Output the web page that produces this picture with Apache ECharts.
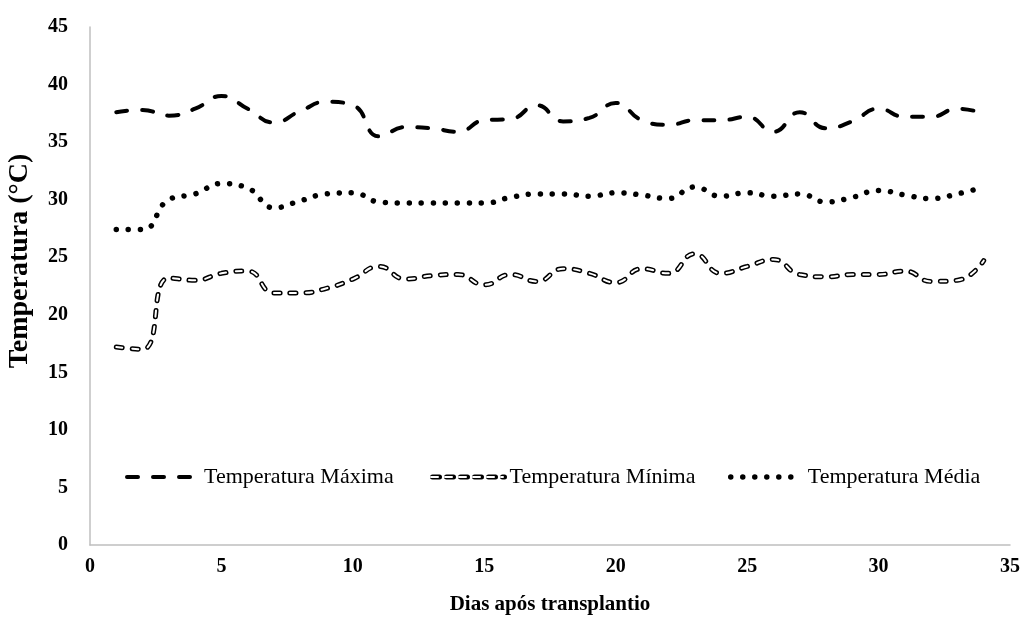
<!DOCTYPE html>
<html>
<head>
<meta charset="utf-8">
<script src="https://cdn.jsdelivr.net/npm/echarts@6/dist/echarts.min.js"></script>
<style>html,body{margin:0;padding:0;background:#fff}#c{width:1027px;height:624px}</style>
</head>
<body>
<div id="c"></div>
<script>
const days = [1,2,3,4,5,6,7,8,9,10,11,12,13,14,15,16,17,18,19,20,21,22,23,24,25,26,27,28,29,30,31,32,33,34];
const tMax = [37.6,37.8,37.3,37.9,39.0,37.9,36.7,37.7,38.5,38.2,35.5,36.3,36.2,35.9,36.9,37.0,38.2,36.8,37.1,38.4,36.9,36.5,36.9,36.9,37.2,35.9,37.6,36.2,36.8,37.9,37.2,37.2,37.9,37.5];
const tMin = [17.2,17.0,23.2,23.0,23.6,23.8,21.9,21.9,22.3,23.1,24.2,23.1,23.4,23.5,22.6,23.5,22.9,24.0,23.6,22.8,24.0,23.6,25.3,23.6,24.2,24.8,23.5,23.3,23.5,23.5,23.8,22.9,23.0,24.7];
const tMed = [27.4,27.4,30.0,30.5,31.4,31.0,29.3,29.9,30.5,30.6,29.8,29.7,29.7,29.7,29.7,30.2,30.5,30.5,30.3,30.6,30.4,30.1,31.1,30.3,30.6,30.3,30.5,29.8,30.2,30.8,30.4,30.1,30.5,31.1];
const names = ['Temperatura Máxima','Temperatura Mínima','Temperatura Média'];
const xTicks = [0,35,5];
const yTicks = [0,45,5];

const pair = a => days.map((d,i)=>[d,a[i]]);
const font = 'Liberation Serif, Times New Roman, serif';
const dashMax = [11,15], dashMin = [6,10], dashMed = [0.01,12];
const legendBase = {
  top:461, itemWidth:72, itemHeight:14,
  itemStyle:{color:'rgba(0,0,0,0)',borderColor:'rgba(0,0,0,0)',borderWidth:0,opacity:0},
  textStyle:{fontFamily:font,fontSize:22,color:'#000'}
};
const chart = echarts.init(document.getElementById('c'));
chart.setOption({
  animation:false,
  grid:{left:90,right:17,top:27,bottom:79,outerBoundsMode:'none'},
  legend:[
    Object.assign({left:120,data:[{name:names[0],lineStyle:{width:4,type:dashMax,cap:'round',color:'#000'}}]},legendBase),
    Object.assign({left:425,data:[{name:names[1],lineStyle:{width:5,type:[7,7],cap:'round',color:'#000'}}]},legendBase),
    Object.assign({},legendBase,{left:425,z:20,zlevel:1,selectedMode:false,formatter:()=>' ',
      data:[{name:'minInner',lineStyle:{width:2,type:[7,7],cap:'round',color:'#ffffff'}}]}),
    Object.assign({left:723,data:[{name:names[2],lineStyle:{width:5.5,type:dashMed,cap:'round',color:'#000'}}]},legendBase)
  ],
  xAxis:{
    type:'value', min:xTicks[0], max:xTicks[1], interval:xTicks[2],
    axisLine:{lineStyle:{color:'#bfbfbf',width:1.5}}, axisTick:{show:false}, splitLine:{show:false},
    axisLabel:{fontFamily:font,fontSize:20,fontWeight:'bold',color:'#000',margin:12},
    name:'Dias após transplantio', nameLocation:'middle', nameGap:49,
    nameTextStyle:{fontFamily:font,fontSize:21,fontWeight:'bold',color:'#000'}
  },
  yAxis:{
    type:'value', min:yTicks[0], max:yTicks[1], interval:yTicks[2],
    axisLine:{show:true,lineStyle:{color:'#bfbfbf',width:1.5}}, axisTick:{show:false}, splitLine:{show:false},
    axisLabel:{fontFamily:font,fontSize:20,fontWeight:'bold',color:'#000',margin:22},
    name:'Temperatura (°C)', nameLocation:'middle', nameGap:56,
    nameTextStyle:{fontFamily:font,fontSize:28,fontWeight:'bold',color:'#000',padding:[0,0,0,50]}
  },
  series:[
    {name:names[0],type:'line',data:pair(tMax),smooth:0.5,symbol:'none',
     lineStyle:{color:'#000',width:4,type:dashMax,cap:'round'},itemStyle:{color:'#000'}},
    {name:names[1],type:'line',data:pair(tMin),smooth:0.5,symbol:'none',
     lineStyle:{color:'#000',width:5,type:dashMin,cap:'round'},itemStyle:{color:'#000'}},
    {name:'minInner',type:'line',data:pair(tMin),smooth:0.5,symbol:'none',silent:true,
     lineStyle:{color:'#fff',width:2,type:dashMin,cap:'round'},itemStyle:{color:'#fff'}},
    {name:names[2],type:'line',data:pair(tMed),smooth:0.5,symbol:'none',
     lineStyle:{color:'#000',width:5.5,type:dashMed,cap:'round'},itemStyle:{color:'#000'}}
  ]
});
</script>
</body>
</html>
